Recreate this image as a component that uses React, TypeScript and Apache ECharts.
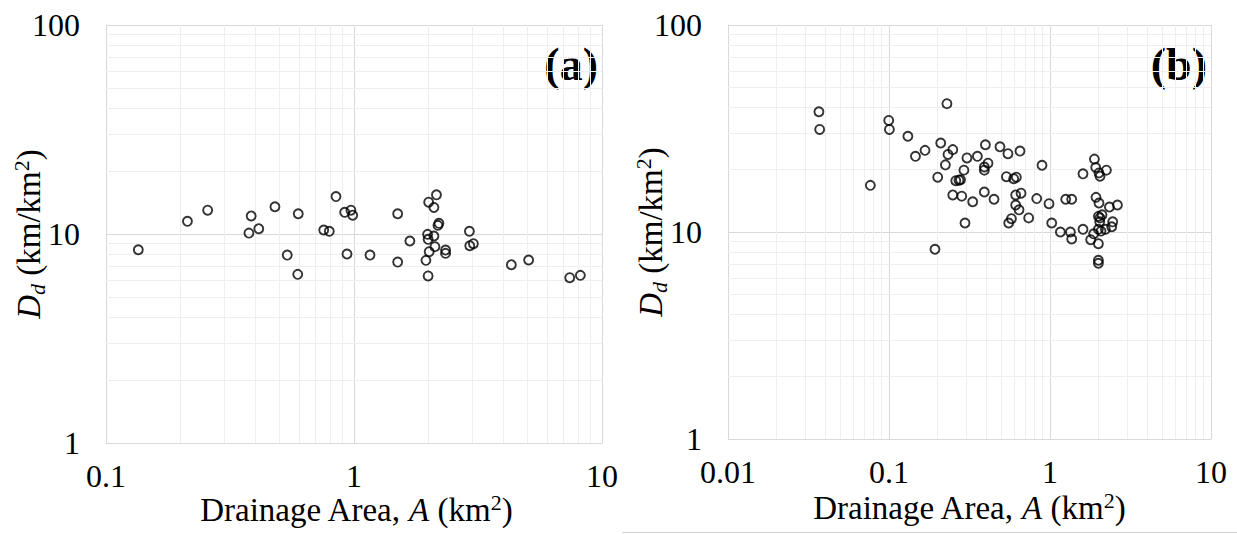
import React, { useEffect, useRef } from "react";
import * as echarts from "echarts";

// Panel (a): drainage area (km²) and drainage density (km/km²)
const areaA = [
  0.135, 0.213, 0.257, 0.385, 0.377, 0.413, 0.48, 0.596, 0.538, 0.593,
  0.846, 0.755, 0.795, 0.917, 0.972, 0.988, 0.937, 1.16, 1.5, 1.5,
  1.68, 2.15, 2.0, 2.1, 2.2, 2.18, 1.98, 2.1, 1.99, 2.12,
  2.01, 1.95, 1.99, 2.34, 2.34, 2.92, 2.93, 3.03, 4.31, 5.06,
  7.41, 8.18,
];
const densityA = [
  8.41, 11.5, 13.0, 12.2, 10.1, 10.6, 13.5, 12.5, 7.93, 6.41,
  15.1, 10.45, 10.3, 12.7, 13.0, 12.3, 8.02, 7.93, 12.5, 7.34,
  9.26, 15.4, 14.2, 13.4, 11.25, 11.0, 9.96, 9.78, 9.43, 8.7,
  8.23, 7.48, 6.3, 8.38, 8.08, 10.3, 8.79, 8.99, 7.13, 7.51,
  6.18, 6.34,
];

// Panel (b)
const areaB = [
  0.0367, 0.0371, 0.0996, 0.1006, 0.131, 0.1674, 0.146, 0.2095, 0.229, 0.2325,
  0.224, 0.2007, 0.0766, 0.193, 0.249, 0.397, 0.489, 0.548, 0.651, 0.305,
  0.354, 0.412, 0.391, 0.391, 0.292, 0.26, 0.272, 0.278, 0.536, 0.595,
  0.618, 0.892, 0.249, 0.283, 0.331, 0.391, 0.449, 0.612, 0.661, 0.612,
  0.642, 0.737, 0.576, 0.554, 0.2965, 0.827, 0.986, 1.252, 1.364, 1.025,
  1.16, 1.339, 1.364, 1.603, 1.603, 1.887, 1.923, 2.015, 2.045, 2.24,
  1.931, 2.015, 2.339, 2.623, 1.998, 2.045, 2.104, 2.036, 2.452, 2.417,
  2.208, 2.074, 1.998, 1.868, 1.79, 1.998, 1.998, 1.998,
];
const densityB = [
  38.1, 31.3, 34.6, 31.3, 29.0, 24.8, 23.2, 26.9, 41.7, 23.7,
  21.1, 18.4, 16.8, 8.25, 25.0, 26.4, 25.8, 23.9, 24.6, 22.8,
  23.2, 21.5, 20.6, 19.9, 19.9, 17.7, 17.8, 17.9, 18.5, 18.1,
  18.4, 21.0, 15.1, 14.9, 14.0, 15.6, 14.4, 15.1, 15.4, 13.5,
  12.8, 11.7, 11.6, 11.05, 11.05, 14.5, 13.7, 14.4, 14.4, 11.05,
  10.0, 10.0, 9.25, 10.3, 19.1, 22.5, 20.5, 19.3, 18.6, 19.9,
  14.7, 13.8, 13.2, 13.5, 11.9, 11.7, 12.1, 11.2, 11.2, 10.6,
  10.3, 10.1, 10.3, 9.8, 9.18, 8.78, 7.3, 7.06,
];

// Axis ranges and decade tick labels
const xRangeA = [0.1, 10];
const xRangeB = [0.01, 10];
const yRange = [1, 100];
const xTickLabelsA = ["0.1", "1", "10"];
const xTickLabelsB = ["0.01", "0.1", "1", "10"];
const yTickLabels = ["1", "10", "100"];

// Minor log grid positions (2..9 within each decade)
const minorMultipliers = [2, 3, 4, 5, 6, 7, 8, 9];
const decadesOf = (lo: number, hi: number) => {
  const out: number[] = [];
  for (let d = lo; d < hi * 0.999; d *= 10) minorMultipliers.forEach((m) => out.push(+(d * m).toPrecision(6)));
  return out;
};

const SERIF = "Liberation Serif";
const MAJOR = "#d9d9d9";
const MINOR = "#efefef";
const TICK_SIZE = 32;
const TITLE_SIZE = 33;
const SMALL_SIZE = 22;

const labelFrom = (labels: string[], min: number) => (v: number) => {
  const idx = Math.round(Math.log10(v) - Math.log10(min));
  return labels[idx] ?? "";
};

const xAxisCfg = (gridIndex: number, range: number[], labels: string[]) => ({
  type: "log",
  logBase: 10,
  gridIndex,
  min: range[0],
  max: range[1],
  axisLine: { show: true, onZero: false, lineStyle: { color: MAJOR, width: 1 } },
  axisTick: { show: false },
  splitLine: { show: true, lineStyle: { color: MAJOR, width: 1 } },
  axisLabel: {
    show: true,
    showMinLabel: true,
    showMaxLabel: true,
    margin: 17,
    color: "#000",
    fontFamily: SERIF,
    fontSize: TICK_SIZE,
    formatter: labelFrom(labels, range[0]),
  },
});

const yAxisCfg = (gridIndex: number) => ({
  type: "log",
  logBase: 10,
  gridIndex,
  min: yRange[0],
  max: yRange[1],
  axisLine: { show: true, onZero: false, lineStyle: { color: MAJOR, width: 1 } },
  axisTick: { show: false },
  splitLine: { show: true, lineStyle: { color: MAJOR, width: 1 } },
  axisLabel: {
    show: true,
    showMinLabel: true,
    showMaxLabel: true,
    margin: 26,
    color: "#000",
    fontFamily: SERIF,
    fontSize: TICK_SIZE,
    formatter: labelFrom(yTickLabels, yRange[0]),
  },
});

const pointSeries = (idx: number, xs: number[], ys: number[], xMinor: number[], yMinor: number[]) => ({
  type: "scatter",
  xAxisIndex: idx,
  yAxisIndex: idx,
  z: 3,
  symbol: "circle",
  symbolSize: 9,
  itemStyle: { color: "rgba(0,0,0,0)", borderColor: "#000", borderWidth: 1.9 },
  emphasis: { disabled: true },
  data: xs.map((x, i) => [x, ys[i]]),
  markLine: {
    silent: true,
    z: 1,
    symbol: ["none", "none"],
    label: { show: false },
    emphasis: { disabled: true },
    lineStyle: { color: MINOR, width: 1, type: "solid" },
    data: [...xMinor.map((v) => ({ xAxis: v })), ...yMinor.map((v) => ({ yAxis: v }))],
  },
});

const base = { fontFamily: SERIF, fill: "#000" };
const yTitleRich = {
  i: { ...base, fontSize: TITLE_SIZE, fontStyle: "italic", lineHeight: 38 },
  sub: { ...base, fontSize: SMALL_SIZE, fontStyle: "italic", lineHeight: 20, verticalAlign: "bottom" },
  n: { ...base, fontSize: TITLE_SIZE, lineHeight: 38 },
  sup: { ...base, fontSize: SMALL_SIZE, lineHeight: 18, verticalAlign: "top" },
};
const xTitleRich = {
  i: { ...base, fontSize: TITLE_SIZE, fontStyle: "italic", lineHeight: 38 },
  n: { ...base, fontSize: TITLE_SIZE, lineHeight: 38 },
  sup: { ...base, fontSize: SMALL_SIZE, lineHeight: 18, verticalAlign: "top" },
};
const yTitleText = "{i|D}{sub|d}{n| (km/km}{sup|2}{n|)}";
const xTitleText = "{n|Drainage Area, }{i|A}{n| (km}{sup|2}{n|)}";

const titleStyle = (text: string, rich: object) => ({
  text,
  rich,
  fontFamily: SERIF,
  fontSize: TITLE_SIZE,
  fill: "#000",
  align: "center",
  verticalAlign: "middle",
});

const panelTag = (text: string, x: number) => ({
  type: "text",
  x,
  y: 64,
  style: {
    text,
    fontFamily: SERIF,
    fontSize: 46,
    fontWeight: "bold",
    fill: "#000",
    align: "right",
    verticalAlign: "middle",
  },
});

export default function App() {
  const ref = useRef<HTMLDivElement>(null);

  useEffect(() => {
    if (!ref.current) return;
    const chart = echarts.init(ref.current, undefined, { renderer: "svg" });
    chart.setOption({
      animation: false,
      backgroundColor: "#fff",
      textStyle: { fontFamily: SERIF },
      grid: [
        { left: 106, top: 25, width: 496, height: 418 },
        { left: 728, top: 25, width: 483, height: 414 },
      ],
      xAxis: [xAxisCfg(0, xRangeA, xTickLabelsA), xAxisCfg(1, xRangeB, xTickLabelsB)],
      yAxis: [yAxisCfg(0), yAxisCfg(1)],
      series: [
        pointSeries(0, areaA, densityA, decadesOf(xRangeA[0], xRangeA[1]), decadesOf(yRange[0], yRange[1])),
        pointSeries(1, areaB, densityB, decadesOf(xRangeB[0], xRangeB[1]), decadesOf(yRange[0], yRange[1])),
      ],
      graphic: [
        { type: "text", x: 29, y: 234, rotation: Math.PI / 2, style: titleStyle(yTitleText, yTitleRich) },
        { type: "text", x: 651, y: 232, rotation: Math.PI / 2, style: titleStyle(yTitleText, yTitleRich) },
        { type: "text", x: 356, y: 510, style: titleStyle(xTitleText, xTitleRich) },
        { type: "text", x: 969, y: 508, style: titleStyle(xTitleText, xTitleRich) },
        panelTag("(a)", 598),
        panelTag("(b)", 1207),
        {
          type: "line",
          shape: { x1: 622, y1: 532.5, x2: 1237, y2: 532.5 },
          style: { stroke: "#d6d6d6", lineWidth: 1 },
        },
      ],
    });
    return () => chart.dispose();
  }, []);

  return (
    <div
      ref={ref}
      style={{ position: "absolute", left: 0, top: 0, width: 1237, height: 534, background: "#fff" }}
    />
  );
}
